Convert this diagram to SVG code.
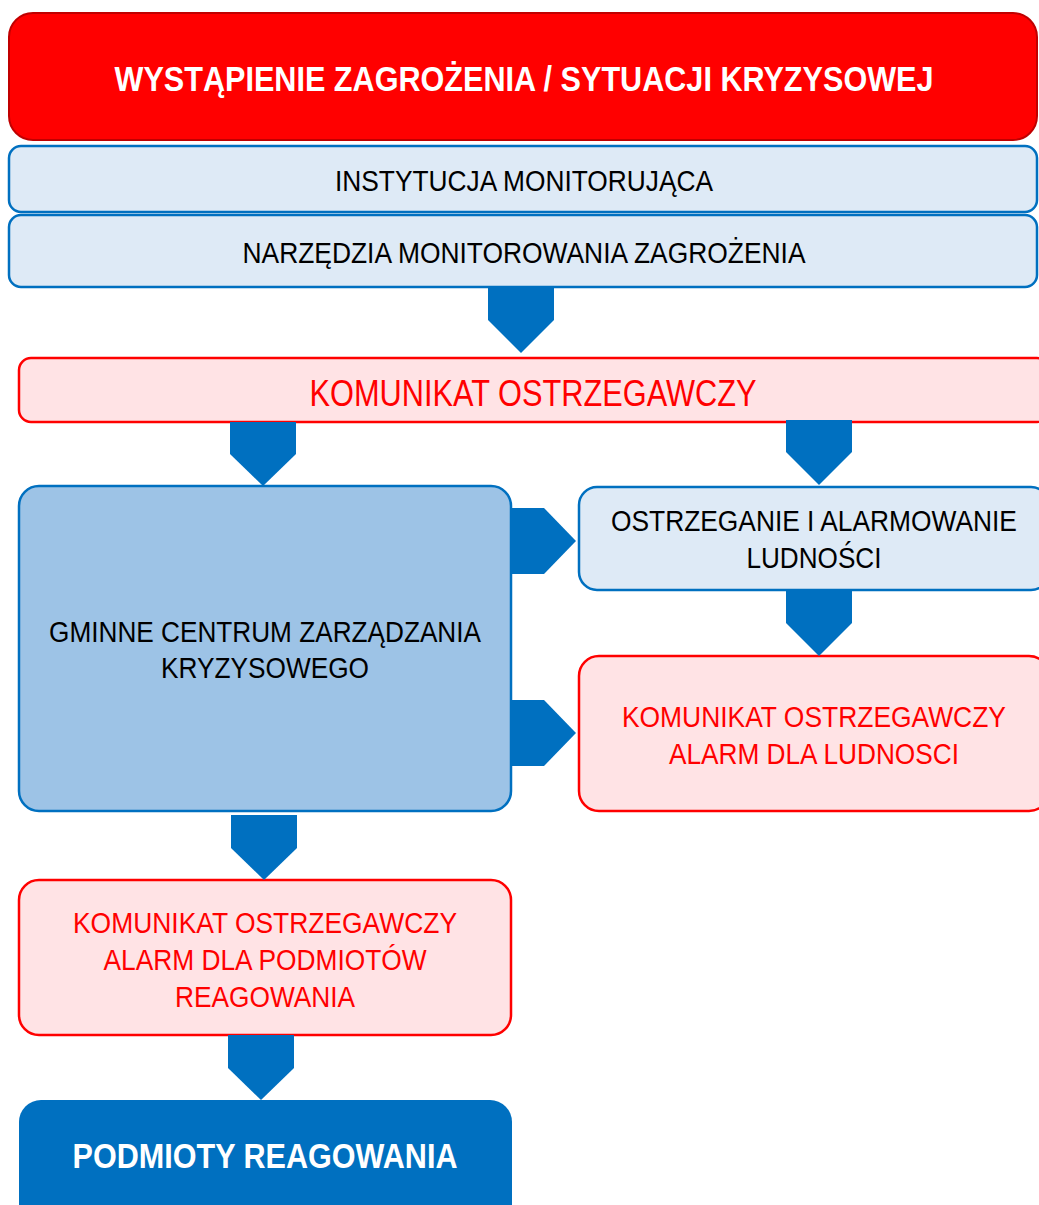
<svg xmlns="http://www.w3.org/2000/svg" width="1039" height="1205" viewBox="0 0 1039 1205">
<style>
.t{font-family:"Liberation Sans",Arial,sans-serif;text-anchor:middle}
.n{font-size:30px;fill:#000}
.r{font-size:30px;fill:#FF0000}
.rb{font-size:37px;fill:#FF0000}
.b{font-size:36px;font-weight:bold;fill:#FFFFFF}
.lb{fill:#DEEAF6;stroke:#0070C0;stroke-width:2.5}
.pk{fill:#FFE3E5;stroke:#FF0000;stroke-width:2.5}
.arr{fill:#0070C0}
</style>
<rect width="1039" height="1205" fill="#FFFFFF"/>
<g id="zagrozenie">
<rect x="9" y="13" width="1028" height="127" rx="24" fill="#FF0000" stroke="#C00000" stroke-width="2"/>
<text class="t b" transform="scale(0.85,1)" x="616.5" y="91" textLength="963.5" lengthAdjust="spacingAndGlyphs">WYSTĄPIENIE ZAGROŻENIA / SYTUACJI KRYZYSOWEJ</text>
</g>
<g id="instytucja">
<rect class="lb" x="9" y="146" width="1028" height="66" rx="12"/>
<text class="t n" transform="scale(0.85,1)" x="616.5" y="191" textLength="444.7" lengthAdjust="spacingAndGlyphs">INSTYTUCJA MONITORUJĄCA</text>
</g>
<g id="narzedzia">
<rect class="lb" x="9" y="215" width="1028" height="72" rx="12"/>
<text class="t n" transform="scale(0.85,1)" x="616.5" y="263" textLength="662.4" lengthAdjust="spacingAndGlyphs">NARZĘDZIA MONITOROWANIA ZAGROŻENIA</text>
</g>
<g id="komunikat">
<rect class="pk" x="19" y="358" width="1030" height="64" rx="12"/>
<text class="t rb" transform="scale(0.85,1)" x="627.1" y="406" textLength="525.9" lengthAdjust="spacingAndGlyphs">KOMUNIKAT OSTRZEGAWCZY</text>
</g>
<g id="gczk">
<rect x="19" y="486" width="492" height="325" rx="20" fill="#9DC3E6" stroke="#0070C0" stroke-width="2.5"/>
<text class="t n" transform="scale(0.85,1)" x="311.8" y="642" textLength="508.2" lengthAdjust="spacingAndGlyphs">GMINNE CENTRUM ZARZĄDZANIA</text>
<text class="t n" transform="scale(0.85,1)" x="311.8" y="678" textLength="244.7" lengthAdjust="spacingAndGlyphs">KRYZYSOWEGO</text>
</g>
<g id="ostrzeganie">
<rect class="lb" x="579" y="487" width="470" height="103" rx="18"/>
<text class="t n" transform="scale(0.85,1)" x="957.6" y="531" textLength="477.6" lengthAdjust="spacingAndGlyphs">OSTRZEGANIE I ALARMOWANIE</text>
<text class="t n" transform="scale(0.85,1)" x="957.6" y="568" textLength="158.8" lengthAdjust="spacingAndGlyphs">LUDNOŚCI</text>
</g>
<g id="alarm-ludnosc">
<rect class="pk" x="579" y="656" width="470" height="155" rx="20"/>
<text class="t r" transform="scale(0.85,1)" x="957.6" y="727" textLength="451.8" lengthAdjust="spacingAndGlyphs">KOMUNIKAT OSTRZEGAWCZY</text>
<text class="t r" transform="scale(0.85,1)" x="957.6" y="764" textLength="341.2" lengthAdjust="spacingAndGlyphs">ALARM DLA LUDNOSCI</text>
</g>
<g id="alarm-podmioty">
<rect class="pk" x="19" y="880" width="492" height="155" rx="20"/>
<text class="t r" transform="scale(0.85,1)" x="311.8" y="933" textLength="451.8" lengthAdjust="spacingAndGlyphs">KOMUNIKAT OSTRZEGAWCZY</text>
<text class="t r" transform="scale(0.85,1)" x="311.8" y="970" textLength="380" lengthAdjust="spacingAndGlyphs">ALARM DLA PODMIOTÓW</text>
<text class="t r" transform="scale(0.85,1)" x="311.8" y="1007" textLength="211.8" lengthAdjust="spacingAndGlyphs">REAGOWANIA</text>
</g>
<g id="podmioty">
<rect x="19" y="1100" width="493" height="130" rx="22" fill="#0070C0"/>
<text class="t b" transform="scale(0.85,1)" x="311.8" y="1168" textLength="452.9" lengthAdjust="spacingAndGlyphs">PODMIOTY REAGOWANIA</text>
</g>
<g id="connectors">
<polygon class="arr" points="488,288 554,288 554,320 521,353 488,320"/>
<polygon class="arr" points="230,422 296,422 296,454 263,486 230,454"/>
<polygon class="arr" points="786,420 852,420 852,452 819,485 786,452"/>
<polygon class="arr" points="511,508 544,508 576,541 544,574 511,574"/>
<polygon class="arr" points="511,700 544,700 576,733 544,766 511,766"/>
<polygon class="arr" points="786,590 852,590 852,623 819,656 786,623"/>
<polygon class="arr" points="231,815 297,815 297,848 264,880 231,848"/>
<polygon class="arr" points="228,1035 294,1035 294,1068 261,1100 228,1068"/>
</g>
</svg>
